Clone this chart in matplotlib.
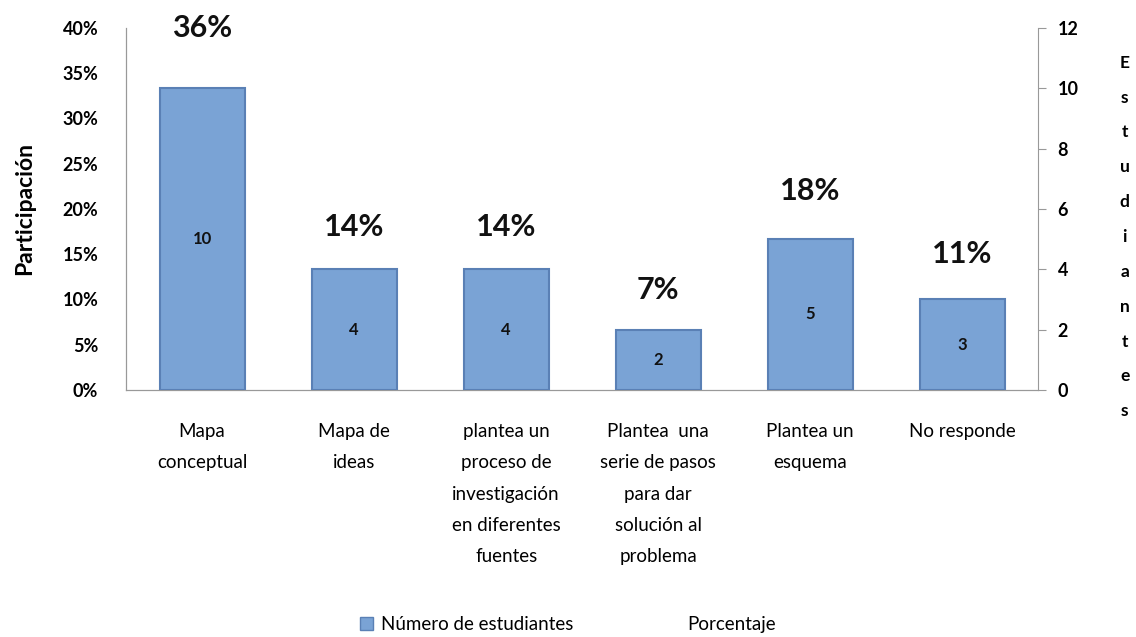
import matplotlib.pyplot as plt
from matplotlib.patches import Patch
from matplotlib.lines import Line2D
from matplotlib.ticker import PercentFormatter

plt.rcParams['font.family'] = ['Lato', 'DejaVu Sans']

# data
categorias = ['Mapa\nconceptual', 'Mapa de\nideas',
              'plantea un\nproceso de\ninvestigación\nen diferentes\nfuentes',
              'Plantea  una\nserie de pasos\npara dar\nsolución al\nproblema',
              'Plantea un\nesquema', 'No responde']
estudiantes = [10, 4, 4, 2, 5, 3]
porcentaje = [36, 14, 14, 7, 18, 11]
pct_labels = ['36%', '14%', '14%', '7%', '18%', '11%']

fig = plt.figure(figsize=(11.36, 6.37), dpi=100)
ax = fig.add_axes([0.111, 0.388, 0.803, 0.568])
ax2 = ax.twinx()
x = range(len(categorias))

# bars use the right axis (students)
bars = ax2.bar(x, estudiantes, width=0.56, color='#7aa3d5',
               edgecolor='#5a80b5', linewidth=1.5, zorder=3)
for b, v in zip(bars, estudiantes):
    ax2.text(b.get_x() + b.get_width()/2, v/2, str(v), ha='center', va='center',
             fontsize=12, fontweight='bold', color='#111111', zorder=4)

# porcentaje series: invisible, only labels
ax.plot(x, porcentaje, color='none')
for xi, p, lab in zip(x, porcentaje, pct_labels):
    ax.annotate(lab, (xi, p), xytext=(0, 26), textcoords='offset points',
                ha='center', va='center', fontsize=22, fontweight='bold', color='#111111')

ax.set_xlim(-0.5, len(categorias) - 0.5)
ax.set_ylim(0, 40)
ax.set_yticks(range(0, 41, 5))
ax.yaxis.set_major_formatter(PercentFormatter(decimals=0))
ax2.set_ylim(0, 12)
ax2.set_yticks(range(0, 13, 2))

ax.set_xticks(list(x))
ax.set_xticklabels(categorias, fontsize=13.5, linespacing=2.02, va='top')
ax.tick_params(axis='x', length=0, pad=24)
ax.tick_params(axis='y', length=0, labelsize=13, pad=20)
for t in ax.get_yticklabels():
    t.set_fontweight('bold')
ax2.tick_params(axis='y', length=6, color='#999999', labelsize=13, pad=8)
for t in ax2.get_yticklabels():
    t.set_fontweight('bold')

for a in (ax, ax2):
    a.spines['top'].set_visible(False)
    for s in ('left', 'right', 'bottom'):
        a.spines[s].set_color('#999999')
ax.spines['right'].set_visible(False)

ax.set_ylabel('Participación', fontsize=16.5, fontweight='bold', labelpad=20)
fig.text(0.99, 0.628, '\n'.join('Estudiantes'), ha='center', va='center',
         fontsize=12.5, fontweight='bold', linespacing=2.45)

handles = [Patch(facecolor='#7aa3d5', edgecolor='#5a80b5'), Line2D([], [], color='none')]
fig.legend(handles, ['Número de estudiantes', 'Porcentaje'], loc='center',
           bbox_to_anchor=(0.5, 0.02), ncol=2, frameon=False, fontsize=13.5,
           handlelength=0.7, handleheight=0.7, handletextpad=0.4, columnspacing=5)

fig.savefig('out.png', dpi=100)
